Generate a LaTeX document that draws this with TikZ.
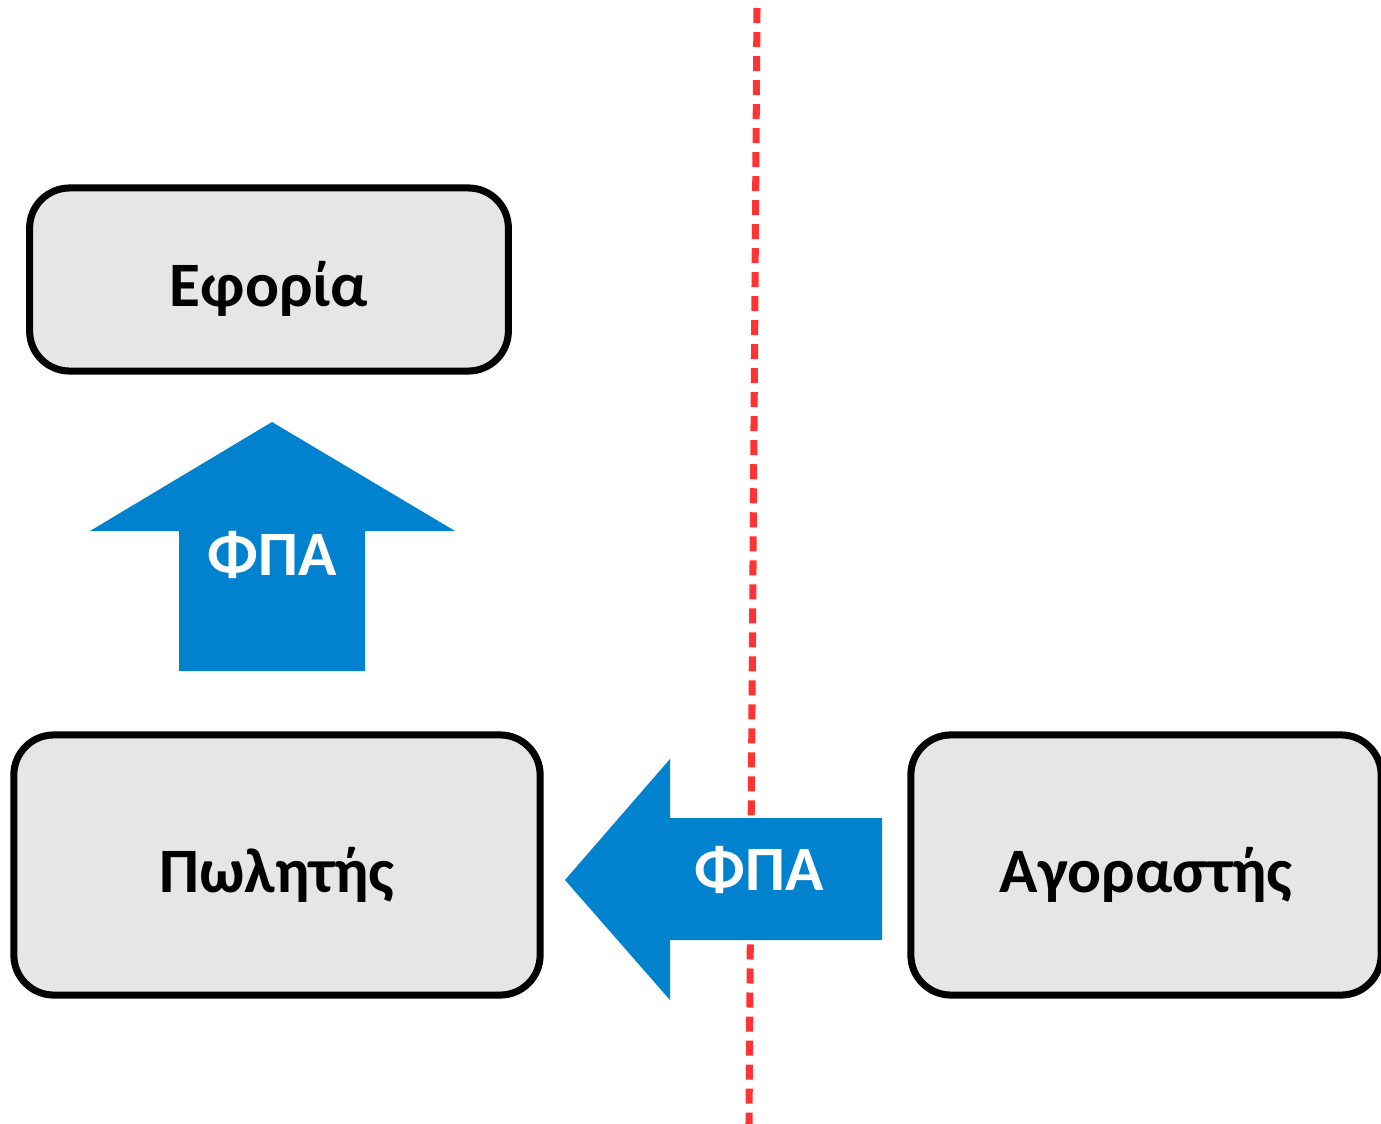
\documentclass[tikz,border=0pt]{standalone}
\usepackage{fontspec}
\setmainfont{Carlito}
\definecolor{boxgray}{HTML}{E6E6E6}
\definecolor{vatblue}{HTML}{0082CF}
\definecolor{borderred}{HTML}{FF3333}
\tikzset{
	party/.style={draw=black, line width=2pt, fill=boxgray, rounded corners=0.4cm,
		text height=0.64cm, text depth=0.1cm,
		font=\fontsize{18}{22}\selectfont\bfseries},
	vatlabel/.style={text=white, anchor=base, font=\fontsize{18}{22}\selectfont\bfseries},
	vatarrow/.style={fill=vatblue, draw=none}
}

\begin{document}
\begin{tikzpicture}[x=0.01cm, y=-0.01cm]
	\useasboundingbox (0,0) rectangle (1381,1124);
	% border line
	\draw[borderred, line width=2pt, dash pattern=on 0.15cm off 0.09cm] (757,8) -- (749,1124);
	% parties
	\node[party, minimum width=4.785cm, minimum height=1.83cm] (tax) at (269,279.5) {Εφορία};
	\node[party, minimum width=5.26cm, minimum height=2.6cm] (seller) at (277,865) {Πωλητής};
	\node[party, minimum width=4.7cm, minimum height=2.6cm] (buyer) at (1146,865) {Αγοραστής};
	% VAT arrows
	\fill[vatarrow] (272,422) -- (455,531) -- (365,531) -- (365,671) -- (179,671) -- (179,531) -- (90,531) -- cycle;
	\fill[vatarrow] (565,880) -- (670,759) -- (670,818) -- (882,818) -- (882,940) -- (670,940) -- (670,1000) -- cycle;
	\node[vatlabel] (vatup) at (272,575) {ΦΠΑ};
	\node[vatlabel] (vatleft) at (759,890) {ΦΠΑ};
\end{tikzpicture}
\end{document}
